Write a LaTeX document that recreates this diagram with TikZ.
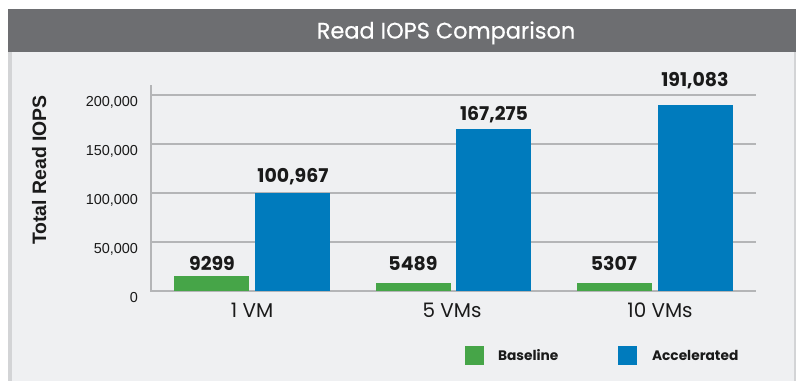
\documentclass[tikz,border=0pt]{standalone}
\usepackage{fontspec}
\setmainfont{Poppins}
\newfontfamily\arialf{Liberation Sans}
\newfontfamily\titlef[FakeBold=0.6]{Poppins}
\definecolor{titlebg}{HTML}{6D6E71}
\definecolor{panelbg}{HTML}{EFF0F2}
\definecolor{panelbd}{HTML}{D3D4D6}
\definecolor{gridc}{HTML}{B4B5B7}
\definecolor{basec}{HTML}{46A548}
\definecolor{accc}{HTML}{007BBD}
\definecolor{txt}{HTML}{1A1A1A}
\begin{document}
\begin{tikzpicture}[x=1bp,y=-1bp,
  every node/.style={inner sep=0pt,outer sep=0pt,text=txt},
  grid/.style={draw=gridc,line width=1.2bp},
  basebar/.style={fill=basec,draw=none},
  accbar/.style={fill=accc,draw=none},
  vallab/.style={font=\fontsize{19}{19}\selectfont\bfseries,anchor=base},
  catlab/.style={font=\fontsize{20}{20}\selectfont,anchor=base},
  ticklab/.style={font=\arialf\fontsize{14.5}{14}\selectfont,anchor=base east},
  leglab/.style={font=\fontsize{13.8}{13}\selectfont\bfseries,anchor=base west},
  legbox/.style={minimum width=19bp,minimum height=19bp}
]
\useasboundingbox (0,0) rectangle (796,381);
\fill[white] (0,0) rectangle (796,381);
% panel
\fill[panelbg] (8,52) rectangle (796,381);
\fill[panelbd] (8,52) rectangle (12,381);
\fill[panelbd] (794,52) rectangle (796,381);
% title bar
\fill[titlebg] (8,9) rectangle (796,52);
\node[font=\titlef\fontsize{22.5}{22}\selectfont,text=white,anchor=base] (title) at (446,38.5) {Read IOPS Comparison};
% axes and grid
\coordinate (ytop) at (151,85);
\coordinate (origin) at (151,291);
\coordinate (xend) at (756,291);
\foreach \v/\yy in {50/242,100/193,150/144,200/95}{
  \draw[grid] (151,\yy) -- (756,\yy);
}
\draw[grid] (ytop) -- (origin) -- (xend);
% tick labels
\node[ticklab] (t0) at (138,302) {0};
\node[ticklab] (t50) at (138,253) {50,000};
\node[ticklab] (t100) at (138,204) {100,000};
\node[ticklab] (t150) at (138,155) {150,000};
\node[ticklab] (t200) at (138,106) {200,000};
% y title
\node[font=\arialf\fontsize{19.5}{19}\selectfont\bfseries,rotate=90,anchor=base] (ytitle) at (46,170) {Total Read IOPS};
% bars
\fill[basebar] (174,276) rectangle (249,291);
\fill[accbar] (255,193) rectangle (330,291);
\fill[basebar] (376,283) rectangle (451,291);
\fill[accbar] (456,129) rectangle (531,291);
\fill[basebar] (577,283) rectangle (652,291);
\fill[accbar] (658,105) rectangle (733,291);
% value labels
\node[vallab] (v1) at (212,270) {9299};
\node[vallab] (v2) at (293,182) {100,967};
\node[vallab] (v3) at (413,270) {5489};
\node[vallab] (v4) at (494,120) {167,275};
\node[vallab] (v5) at (614,270) {5307};
\node[vallab] (v6) at (695,86) {191,083};
% category labels
\node[catlab] (c1) at (252,317) {1 VM};
\node[catlab] (c2) at (452,317) {5 VMs};
\node[catlab] (c3) at (660,317) {10 VMs};
% legend
\node[legbox,fill=basec] (lb) at (474.5,355.5) {};
\node[leglab] (lbt) at (498,360) {Baseline};
\node[legbox,fill=accc] (la) at (627.5,355.5) {};
\node[leglab] (lat) at (652,360) {Accelerated};
\end{tikzpicture}
\end{document}
